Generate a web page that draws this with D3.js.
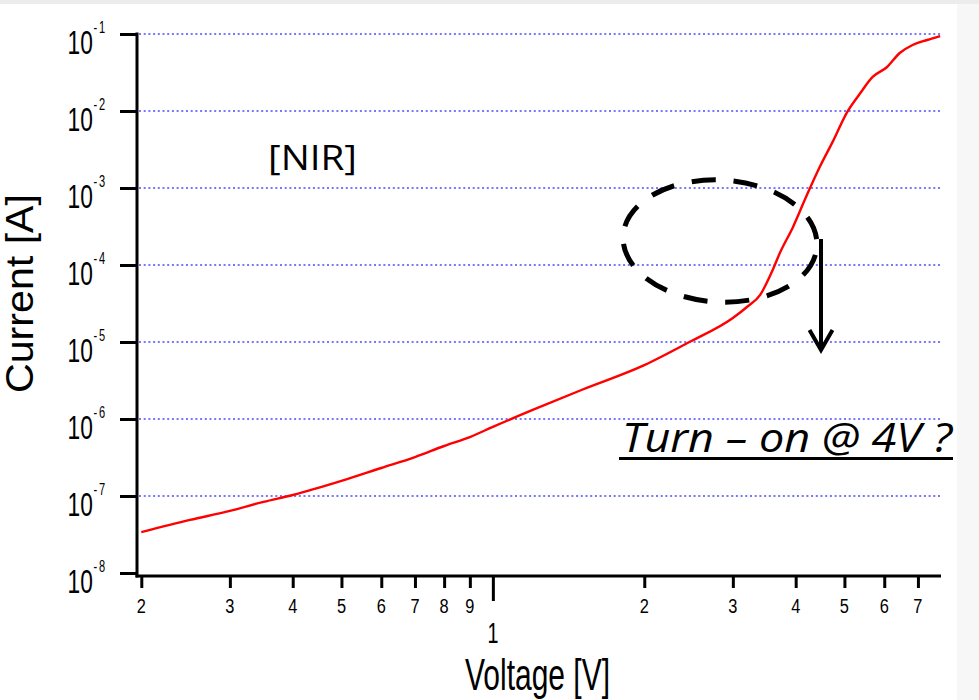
<!DOCTYPE html>
<html>
<head>
<meta charset="utf-8">
<script src="https://cdn.jsdelivr.net/npm/d3@7"></script>
<style>
  html, body { margin: 0; padding: 0; background: #fff; }
  svg { display: block; }
</style>
</head>
<body>
<script>
// I–V sweep of the NIR device (log–log)
const voltage = [0.2, 0.25, 0.3, 0.35, 0.4, 0.5, 0.6, 0.7, 0.8, 0.9, 1.0, 1.2, 1.5, 2.0, 2.46,
                 3.0, 3.2, 3.4, 3.6, 3.72, 3.95, 4.2, 4.47, 4.74, 5.05, 5.36, 5.69, 6.07, 6.44,
                 6.83, 7.3, 7.75];
const current = [3.4e-8, 4.9e-8, 6.4e-8, 8.4e-8, 1.03e-7, 1.57e-7, 2.31e-7, 3.2e-7, 4.46e-7,
                 5.83e-7, 7.9e-7, 1.31e-6, 2.38e-6, 5.0e-6, 1.0e-5, 2.05e-5, 2.85e-5, 4.1e-5,
                 8.6e-5, 1.43e-4, 3.1e-4, 7.8e-4, 1.9e-3, 4.0e-3, 9.4e-3, 1.66e-2, 2.77e-2,
                 3.7e-2, 5.66e-2, 7.2e-2, 8.36e-2, 9.4e-2];

const xMinorTicks = [0.2, 0.3, 0.4, 0.5, 0.6, 0.7, 0.8, 0.9, 2, 3, 4, 5, 6, 7];
const xMajorTicks = [1];
const yExponents = [-1, -2, -3, -4, -5, -6, -7, -8];
const gridExponents = [-1, -2, -3, -4, -5, -6, -7];

const W = 979, H = 700;
const svg = d3.select("body").append("svg").attr("width", W).attr("height", H);

// page background with the faint frame strips
svg.append("rect").attr("width", W).attr("height", H).attr("fill", "#ffffff");
svg.append("rect").attr("x", 0).attr("y", 0).attr("width", W).attr("height", 4).attr("fill", "#ececec");
svg.append("rect").attr("x", 957).attr("y", 4).attr("width", W - 957).attr("height", H - 4).attr("fill", "#f7f7f7");

const x = d3.scaleLog().domain([0.197, 7.78]).range([138, 941]);
const y = d3.scaleLog().domain([1e-8, 1e-1]).range([573, 34]);

// dotted decade grid
svg.append("g").selectAll("line").data(gridExponents).join("line")
  .attr("x1", 139).attr("x2", 942)
  .attr("y1", d => y(Math.pow(10, d))).attr("y2", d => y(Math.pow(10, d)))
  .attr("stroke", "#7878ff").attr("stroke-width", 2).attr("stroke-dasharray", "2,2.7");

// current trace
const line = d3.line()
  .x((d, i) => x(voltage[i]))
  .y(d => y(d))
  .curve(d3.curveMonotoneX);
svg.append("path").datum(current)
  .attr("d", line)
  .attr("fill", "none").attr("stroke", "#ff0000").attr("stroke-width", 2.4);

// axes
const yAxis = svg.append("g").attr("transform", "translate(137,0)")
  .call(d3.axisLeft(y).tickValues(yExponents.map(e => Math.pow(10, e))).tickSize(17).tickSizeOuter(0).tickFormat(""));
yAxis.select(".domain").remove();
yAxis.selectAll(".tick line").attr("stroke", "#000").attr("stroke-width", 3);

const xAxisMinor = svg.append("g").attr("transform", "translate(0,577)")
  .call(d3.axisBottom(x).tickValues(xMinorTicks).tickSize(11).tickSizeOuter(0).tickFormat(""));
xAxisMinor.select(".domain").remove();
xAxisMinor.selectAll(".tick line").attr("stroke", "#000").attr("stroke-width", 3);

const xAxisMajor = svg.append("g").attr("transform", "translate(0,577)")
  .call(d3.axisBottom(x).tickValues(xMajorTicks).tickSize(24).tickSizeOuter(0).tickFormat(""));
xAxisMajor.select(".domain").remove();
xAxisMajor.selectAll(".tick line").attr("stroke", "#000").attr("stroke-width", 3);

// axis lines
svg.append("line").attr("x1", 137).attr("x2", 137).attr("y1", 32.5).attr("y2", 577.5)
  .attr("stroke", "#000").attr("stroke-width", 3);
svg.append("line").attr("x1", 135.5).attr("x2", 941).attr("y1", 576).attr("y2", 576)
  .attr("stroke", "#000").attr("stroke-width", 3);

const sans = "'Liberation Sans', Arial, sans-serif";

// y tick labels: 10^n, condensed, with a raised exponent
const yLab = svg.append("g").selectAll("text").data(yExponents).join("text")
  .attr("transform", d => `translate(67.5,${y(Math.pow(10, d)) + 20}) scale(0.69,1)`)
  .attr("font-family", sans);
yLab.append("tspan").attr("font-size", 33).text("10");
yLab.append("tspan").attr("font-size", 16).attr("dy", -21).attr("dx", 1)
  .attr("letter-spacing", 2.5)
  .text(d => "-" + Math.abs(d));

// x tick labels
svg.append("g").selectAll("text").data(xMinorTicks).join("text")
  .attr("transform", d => `translate(${x(d)},613) scale(0.78,1)`)
  .attr("text-anchor", "middle")
  .attr("font-family", sans).attr("font-size", 21)
  .text(d => d < 1 ? Math.round(d * 10) : d);
svg.append("g").selectAll("text").data(xMajorTicks).join("text")
  .attr("transform", d => `translate(${x(d)},643) scale(0.68,1)`)
  .attr("text-anchor", "middle")
  .attr("font-family", sans).attr("font-size", 29)
  .text(d => d);

// axis titles
svg.append("text")
  .attr("x", 465).attr("y", 690)
  .attr("font-family", sans).attr("font-size", 44)
  .attr("textLength", 145).attr("lengthAdjust", "spacingAndGlyphs")
  .text("Voltage [V]");
svg.append("text")
  .attr("transform", "translate(33,393) rotate(-90)")
  .attr("font-family", sans).attr("font-size", 38)
  .attr("textLength", 199).attr("lengthAdjust", "spacingAndGlyphs")
  .text("Current [A]");

// annotations
const note = "'Open Sans', 'Noto Sans', sans-serif";
svg.append("text")
  .attr("x", 268).attr("y", 170)
  .attr("font-family", note).attr("font-size", 35)
  .attr("textLength", 89).attr("lengthAdjust", "spacingAndGlyphs")
  .text("[NIR]");

svg.append("text")
  .attr("x", 622).attr("y", 452)
  .attr("font-family", note).attr("font-size", 41).attr("font-style", "italic")
  .attr("textLength", 330).attr("lengthAdjust", "spacingAndGlyphs")
  .text("Turn \u2013 on @ 4V ?");
svg.append("line").attr("x1", 619).attr("x2", 953).attr("y1", 458.5).attr("y2", 458.5)
  .attr("stroke", "#000").attr("stroke-width", 3);

svg.append("ellipse")
  .attr("cx", 720).attr("cy", 241).attr("rx", 97).attr("ry", 61)
  .attr("transform", "rotate(3,720,241)")
  .attr("fill", "none").attr("stroke", "#000").attr("stroke-width", 5)
  .attr("stroke-dasharray", "24,18").attr("stroke-dashoffset", 33);

svg.append("line").attr("x1", 821).attr("x2", 821).attr("y1", 239).attr("y2", 350)
  .attr("stroke", "#000").attr("stroke-width", 4);
svg.append("polyline").attr("points", "809.5,330 821,350 832.5,330")
  .attr("fill", "none").attr("stroke", "#000").attr("stroke-width", 4)
  .attr("stroke-linejoin", "miter");
</script>
</body>
</html>
